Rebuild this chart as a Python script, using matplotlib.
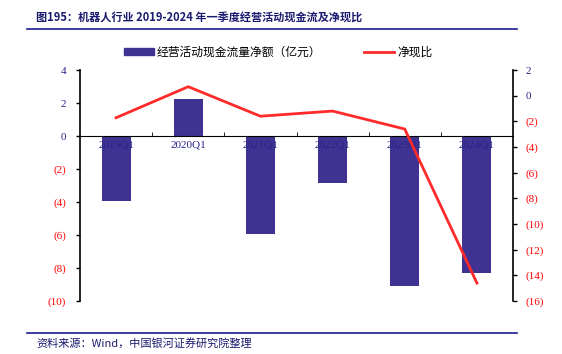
import numpy as np
import matplotlib
matplotlib.use('Agg')
import matplotlib.pyplot as plt
from matplotlib.lines import Line2D
from matplotlib.patches import Patch

plt.rcParams['font.family'] = ['Liberation Serif', 'Noto Sans CJK SC']

quarters = ['2019Q1', '2020Q1', '2021Q1', '2022Q1', '2023Q1', '2024Q1']
cash_flow = [-3.95, 2.24, -5.94, -2.85, -9.1, -8.3]     # 经营活动现金流量净额(亿元)
net_cash_ratio = [-1.72, 0.7, -1.6, -1.2, -2.6, -14.6]  # 净现比

left_ticks = [4, 2, 0, -2, -4, -6, -8, -10]
right_ticks = [2, 0, -2, -4, -6, -8, -10, -12, -14, -16]

bar_col = '#3F3391'
line_col = '#FF2A2A'
blue_txt = '#27238C'
red_txt = '#FF0000'


def fmt(v):
    return '(%d)' % abs(v) if v < 0 else '%d' % v


fig = plt.figure(figsize=(5.62, 3.54), dpi=100)
ax = fig.add_axes([80/562, 1-301/354, 433/562, 231/354])
x = np.arange(len(quarters))
ax.bar(x, cash_flow, width=0.4, color=bar_col, zorder=2)
ax.set_xlim(-0.5, len(quarters)-0.5)
ax.set_ylim(-10, 4)

ax.spines['top'].set_visible(False)
ax.spines['right'].set_visible(False)
ax.spines['bottom'].set_position(('data', 0))
ax.spines['left'].set_linewidth(1.2)
ax.xaxis.set_zorder(3)

ax.set_xticks(x)
ax.set_xticklabels(quarters, color=blue_txt, fontsize=8)
ax.set_xticks(np.arange(0.5, len(quarters)-0.5), minor=True)
ax.tick_params(axis='x', which='major', length=0, pad=3)
ax.tick_params(axis='x', which='minor', length=3, direction='in')

ax.set_yticks(left_ticks)
ax.set_yticklabels([fmt(v) for v in left_ticks], fontsize=8)
for t, v in zip(ax.get_yticklabels(), left_ticks):
    t.set_color(blue_txt if v >= 0 else red_txt)
ax.tick_params(axis='y', length=3, width=1, pad=7)

ax2 = ax.twinx()
ax2.plot(x, net_cash_ratio, color=line_col, lw=2, zorder=4)
ax2.set_ylim(-16, 2)
for s in ['top', 'left', 'bottom']:
    ax2.spines[s].set_visible(False)
ax2.spines['right'].set_linewidth(1.2)
ax2.set_yticks(right_ticks)
ax2.set_yticklabels([fmt(v) for v in right_ticks], fontsize=8)
for t, v in zip(ax2.get_yticklabels(), right_ticks):
    t.set_color(blue_txt if v >= 0 else red_txt)
ax2.tick_params(axis='y', length=3, width=1, pad=6)

# legend
handles = [Patch(color=bar_col), Line2D([], [], color=line_col, lw=2)]
fig.legend(handles, ['经营活动现金流量净额（亿元）', '净现比'],
           loc='center', bbox_to_anchor=(0.495, 1-52/354), ncol=2, frameon=False,
           prop={'family': 'Noto Sans CJK SC', 'size': 8.5}, columnspacing=3.6,
           handlelength=2.5, handleheight=0.5, handletextpad=0.3)

# title and footer
fig.text(36/562, 1-18/354, '图195：机器人行业 2019-2024 年一季度经营活动现金流及净现比',
         fontsize=8, fontweight='bold', color='#1A1A6E', va='center',
         family=['Noto Sans CJK SC'])
fig.add_artist(Line2D([27/562, 517/562], [1-29/354, 1-29/354], color='#1A1A8E', lw=1.2))
fig.add_artist(Line2D([27/562, 517/562], [1-333/354, 1-333/354], color='#1A1A8E', lw=1.2))
fig.text(36/562, 1-343/354, '资料来源：Wind，中国银河证券研究院整理', fontsize=8,
         style='italic', color='#1A1A6E', va='center', family=['Noto Sans CJK SC'])

fig.savefig('out.png', dpi=100)
